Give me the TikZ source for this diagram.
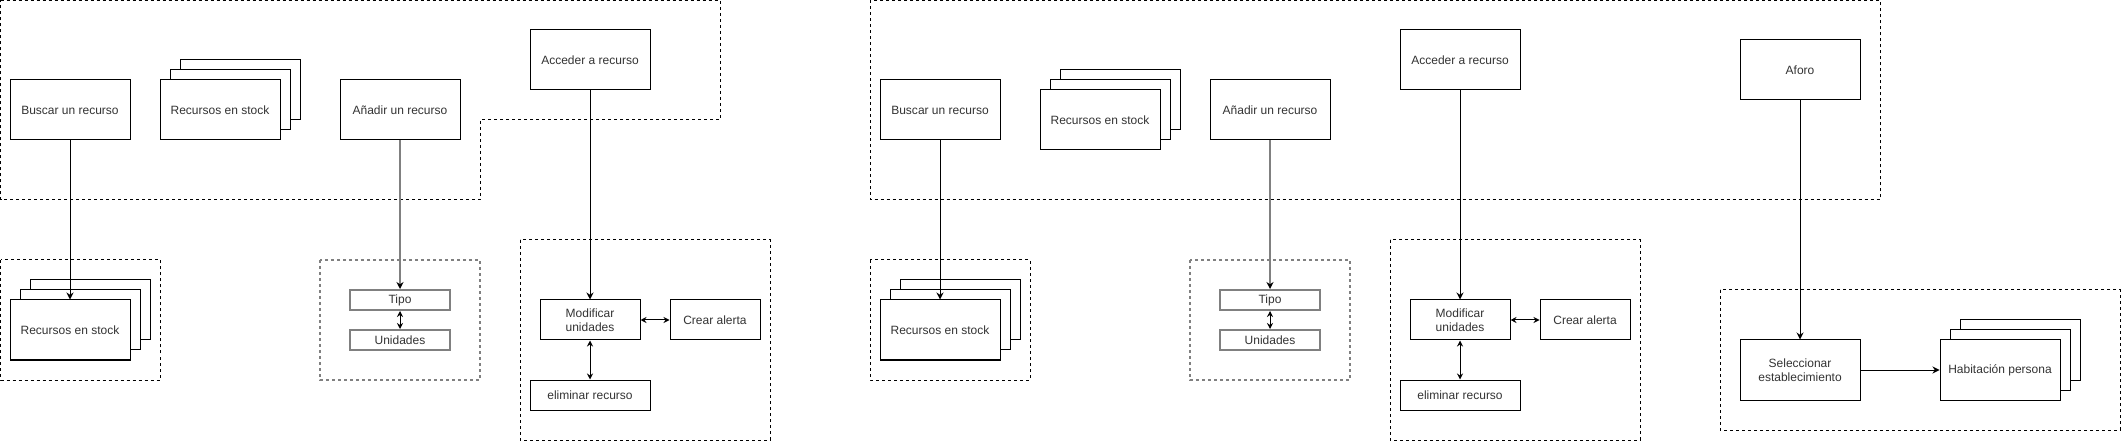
\documentclass[tikz,border=0pt]{standalone}
\usepackage{fontspec}
\setmainfont{Liberation Sans}
\usetikzlibrary{arrows.meta}

\begin{document}
\begin{tikzpicture}[x=1pt,y=-1pt,
	box/.style={draw,line width=1pt,fill=white,minimum width=120pt,minimum height=60pt,inner sep=2pt,align=center,font=\fontsize{12pt}{14pt}\selectfont,text=black!80},
	midbox/.style={box,minimum width=100pt,minimum height=40pt},
	thinbox/.style={box,minimum width=100pt,minimum height=20pt,draw=gray,line width=2pt},
	zone/.style={draw,line width=1pt,dash pattern=on 3pt off 3pt},
	greyzone/.style={zone,draw=gray,line width=1.5pt},
	link/.style={line width=1pt,-{Stealth[length=7pt,width=7pt]}},
	greylink/.style={draw=gray,line width=1.5pt,-{Stealth[length=7pt,width=7pt,color=black]}},
	twolink/.style={line width=1pt,{Stealth[length=6pt,width=6pt]}-{Stealth[length=6pt,width=6pt]}}]
	\useasboundingbox (0,0) rectangle (2122,443);
		%Left panel, zones
		\draw[zone] (0.5,0.5)--(720,0.5)--(720,120)--(480,120)--(480,200)--(0.5,200)--cycle;
		\draw[zone] (0.5,260) rectangle (160,380);
		\draw[greyzone] (320,260) rectangle (480,380);
		\draw[zone] (520,240) rectangle (770,440);
		%Left panel, top row
		\node[box] (buscarA) at (70,110) {Buscar un recurso};
		\node[box] (stockAc) at (240,90) {};
		\node[box] (stockAb) at (230,100) {};
		\node[box] (stockA) at (220,110) {Recursos en stock};
		\node[box] (anadirA) at (400,110) {Añadir un recurso};
		\node[box] (accederA) at (590,60) {Acceder a recurso};
		%Left panel, bottom row
		\node[box] (lowAc) at (90,310) {};
		\node[box] (lowAb) at (80,320) {};
		\node[box] (lowA) at (70,330) {Recursos en stock};
		\node[thinbox] (tipoA) at (400,300) {Tipo};
		\node[thinbox] (unidA) at (400,340) {Unidades};
		\node[midbox] (modA) at (590,320) {Modificar\\unidades};
		\node[midbox,minimum width=90pt] (alertaA) at (715,320) {Crear alerta};
		\node[box,minimum height=30pt] (elimA) at (590,395) {eliminar recurso};
		%Left panel, links
		\draw[link] (buscarA.south)--(lowA.north);
		\draw[greylink] (anadirA.south)--(tipoA.north);
		\draw[twolink] (tipoA.south)--(unidA.north);
		\draw[link] (accederA.south)--(modA.north);
		\draw[twolink] (modA.east)--(alertaA.west);
		\draw[twolink] (modA.south)--(elimA.north);
		%Right panel, zones
		\draw[zone] (870,0.5) rectangle (1880,200);
		\draw[zone] (870,260) rectangle (1030,380);
		\draw[greyzone] (1190,260) rectangle (1350,380);
		\draw[zone] (1390,240) rectangle (1640,440);
		\draw[zone] (1720,290) rectangle (2120,430);
		%Right panel, top row
		\node[box] (buscarB) at (940,110) {Buscar un recurso};
		\node[box] (stockBc) at (1120,100) {};
		\node[box] (stockBb) at (1110,110) {};
		\node[box] (stockB) at (1100,120) {Recursos en stock};
		\node[box] (anadirB) at (1270,110) {Añadir un recurso};
		\node[box] (accederB) at (1460,60) {Acceder a recurso};
		\node[box] (aforo) at (1800,70) {Aforo};
		%Right panel, bottom row
		\node[box] (lowBc) at (960,310) {};
		\node[box] (lowBb) at (950,320) {};
		\node[box] (lowB) at (940,330) {Recursos en stock};
		\node[thinbox] (tipoB) at (1270,300) {Tipo};
		\node[thinbox] (unidB) at (1270,340) {Unidades};
		\node[midbox] (modB) at (1460,320) {Modificar\\unidades};
		\node[midbox,minimum width=90pt] (alertaB) at (1585,320) {Crear alerta};
		\node[box,minimum height=30pt] (elimB) at (1460,395) {eliminar recurso};
		\node[box] (selec) at (1800,370) {Seleccionar\\establecimiento};
		\node[box] (habc) at (2020,350) {};
		\node[box] (habb) at (2010,360) {};
		\node[box] (hab) at (2000,370) {Habitación persona};
		%Right panel, links
		\draw[link] (buscarB.south)--(lowB.north);
		\draw[greylink] (anadirB.south)--(tipoB.north);
		\draw[twolink] (tipoB.south)--(unidB.north);
		\draw[link] (accederB.south)--(modB.north);
		\draw[twolink] (modB.east)--(alertaB.west);
		\draw[twolink] (modB.south)--(elimB.north);
		\draw[link] (aforo.south)--(selec.north);
		\draw[link] (selec.east)--(hab.west);
\end{tikzpicture}
\end{document}
